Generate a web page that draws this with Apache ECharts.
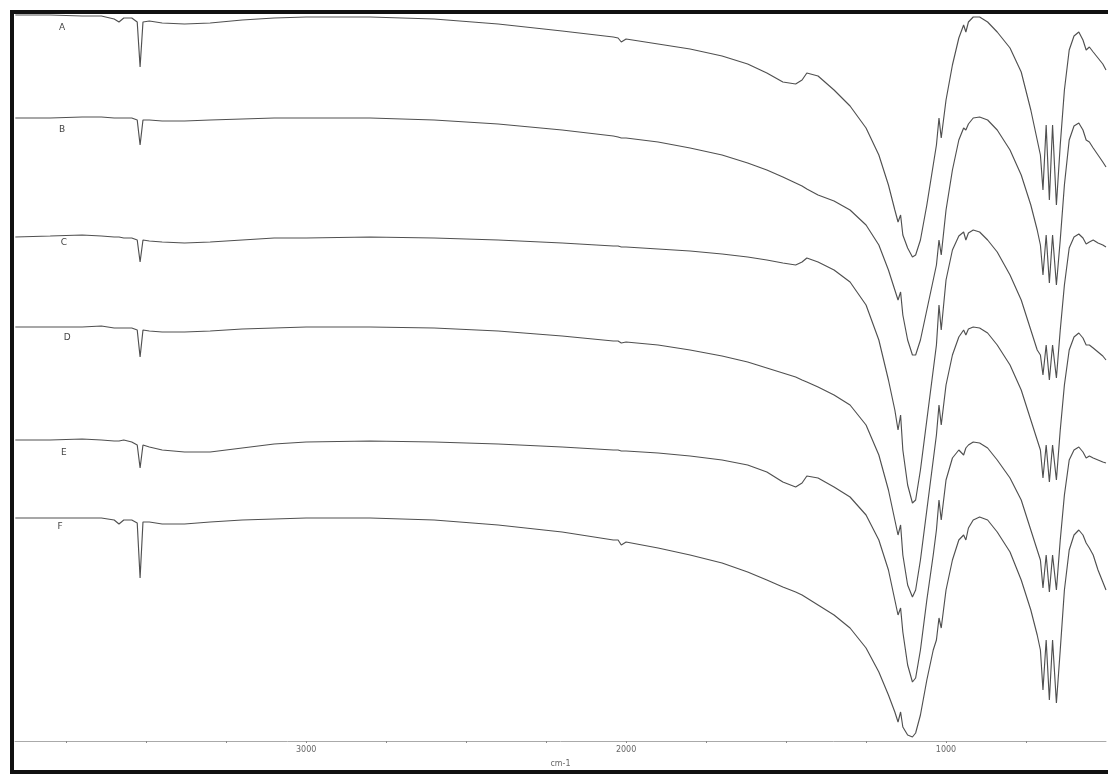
<!DOCTYPE html>
<html>
<head>
<meta charset="utf-8">
<script src="https://cdn.jsdelivr.net/npm/echarts@6/dist/echarts.min.js"></script>
<style>
html,body{margin:0;padding:0;background:#fff;}
#c{width:1108px;height:774px;}
</style>
</head>
<body>
<div id="c"></div>
<script>
// Wavenumber grid (cm-1) shared by all traces
const wavenumbers = [3909,3800,3700,3640,3600,3585,3570,3545,3528,3519,
3510,3490,3450,3380,3300,3200,3100,3000,2800,2600,
2400,2200,2040,2025,2015,2000,1900,1800,1700,1620,
1560,1510,1470,1450,1435,1400,1350,1300,1250,1210,
1180,1160,1150,1142,1135,1120,1105,1095,1080,1060,
1040,1030,1022,1015,1000,980,960,945,938,930,
915,895,870,840,800,765,735,715,705,697,
687,677,667,655,643,630,615,600,585,572,
562,552,540,525,510,500];

// Offset signal (arbitrary units, increasing downward)
const traceA = [15,15,16,16,19,22,18,18,22,67,
22,21,23,24,23,20,18,17,17,19,
24,31,37,38,42,39,44,49,56,64,
73,82,84,80,73,76,90,106,128,155,
185,210,222,215,235,248,257,255,240,205,
165,145,118,138,100,65,38,25,32,22,
17,17,22,32,48,72,110,140,155,190,
125,200,125,205,145,90,50,36,32,40,
50,47,52,58,64,70];
const traceB = [118,118,117,117,118,118,118,118,120,145,
120,120,121,121,120,119,118,118,118,120,
124,130,136,137,138,138,142,148,155,163,
170,177,183,186,189,195,201,210,225,245,
270,290,300,292,315,340,355,355,340,310,
280,265,240,255,210,170,140,128,130,124,
118,117,120,130,150,175,205,230,245,275,
235,283,235,285,240,185,140,126,123,130,
140,142,148,155,162,167];
const traceC = [237,236,235,236,237,237,238,238,240,262,
240,241,242,243,242,240,238,238,237,238,
240,243,246,246,247,247,249,251,254,257,
260,263,265,262,258,262,270,282,305,340,
380,410,430,415,450,485,503,500,470,420,
370,345,305,330,280,250,236,232,240,233,
230,232,240,252,275,300,330,350,355,375,
345,380,345,378,330,285,248,237,234,238,
244,242,240,243,245,247];
const traceD = [327,327,327,326,328,328,328,328,330,357,
330,331,332,332,331,329,328,327,327,328,
331,336,341,341,343,342,345,350,356,362,
368,373,377,380,382,387,395,405,425,455,
490,520,535,525,555,585,597,590,560,510,
460,435,405,425,385,355,337,330,335,329,
327,328,333,345,365,390,420,440,450,478,
445,482,445,480,430,385,350,337,333,338,
345,345,348,352,356,360];
const traceE = [440,440,439,440,441,441,440,442,445,468,
445,447,450,452,452,448,444,442,441,442,
444,447,450,450,451,451,453,456,460,465,
472,482,487,483,476,478,487,497,515,540,
570,600,615,608,632,665,682,678,650,600,
555,530,500,520,480,458,450,455,448,445,
442,443,448,460,478,500,530,550,560,588,
555,592,555,590,540,495,460,450,447,452,
458,456,458,460,462,463];
const traceF = [518,518,518,518,520,524,520,520,523,578,
522,522,524,524,522,520,519,518,518,520,
525,532,540,540,545,542,548,555,563,572,
580,587,592,595,598,605,615,628,648,672,
695,712,722,712,727,735,737,733,715,680,
650,640,618,628,590,560,540,535,540,528,
520,517,520,532,552,580,610,635,650,690,
640,700,640,703,650,590,550,535,530,535,
543,548,555,570,582,590];

const traceNames = ['A','B','C','D','E','F'];
const traceLabelWn = [3763,3763,3757,3747,3757,3769];
const traceLabelVal = [28,130,243,338,453,527];
const tickLabels = [1000,2000,3000];

const traces = [traceA,traceB,traceC,traceD,traceE,traceF];

const chart = echarts.init(document.getElementById('c'), null, {renderer:'canvas'});
const series = traces.map((t,k)=>({
  name: traceNames[k],
  type:'line',
  data: wavenumbers.map((w,i)=>[w,t[i]]),
  showSymbol:false,
  symbol:'none',
  silent:true,
  lineStyle:{color:'#505050',width:1.15},
  markPoint:{
    symbol:'circle',symbolSize:0,silent:true,
    label:{show:true,position:'inside',formatter:traceNames[k],fontSize:9,color:'#444',fontFamily:'DejaVu Sans'},
    data:[{coord:[traceLabelWn[k],traceLabelVal[k]]}]
  }
}));

chart.setOption({
  animation:false,
  backgroundColor:'#fff',
  grid:{left:15,right:2,top:0,bottom:33,containLabel:false},
  xAxis:{
    type:'value',min:500,max:3910,inverse:true,interval:250,
    name:'cm-1',nameLocation:'middle',nameGap:19,
    nameTextStyle:{fontSize:8,color:'#666',fontFamily:'DejaVu Sans'},
    axisLine:{onZero:false,lineStyle:{color:'#aaa',width:1}},
    axisTick:{show:true,length:2,lineStyle:{color:'#888'}},
    axisLabel:{fontSize:8,color:'#666',margin:5,fontFamily:'DejaVu Sans',
      showMaxLabel:false,showMinLabel:false,
      formatter:v=>tickLabels.indexOf(v)>=0?String(v):''},
    splitLine:{show:false}
  },
  yAxis:{type:'value',min:0,max:741,inverse:true,show:false,splitLine:{show:false}},
  series:series,
  graphic:[{
    type:'rect',silent:true,z:100,
    shape:{x:12,y:12,width:1110,height:760},
    style:{fill:'none',stroke:'#111',lineWidth:4}
  }]
});
</script>
</body>
</html>
